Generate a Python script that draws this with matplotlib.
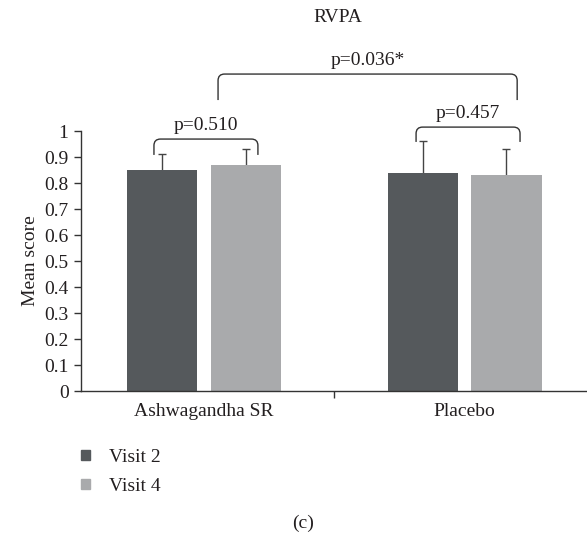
import matplotlib
matplotlib.use('Agg')
import matplotlib.pyplot as plt
from matplotlib.path import Path
from matplotlib.patches import PathPatch, Patch

# data
groups = ['Ashwagandha SR', 'Placebo']
series = ['Visit 2', 'Visit 4']
visit2 = [0.85, 0.84]
visit4 = [0.87, 0.83]
visit2_err = [0.06, 0.12]
visit4_err = [0.06, 0.10]
colors = ['#55595c', '#a9aaac']

# brackets: (x left, x right, y top, y ends, label)
brackets = [
    (-0.192, 0.207, 0.969, 0.908, 'p=0.510'),
    (0.814, 1.213, 1.015, 0.958, 'p=0.457'),
    (0.054, 1.202, 1.219, 1.119, 'p=0.036*'),
]

plt.rcParams['font.family'] = ['Liberation Serif', 'DejaVu Serif']
txt = '#231f20'
fs = 14

fig = plt.figure(figsize=(5.87, 5.37), dpi=100)
ax = fig.add_axes([81/587, 1 - 391/537, 1 - 81/587, 260/537])

x = range(len(groups))
w = 0.269
off = 0.161
ax.bar([i - off for i in x], visit2, w, color=colors[0], zorder=2)
ax.bar([i + off for i in x], visit4, w, color=colors[1], zorder=2)
# upper error bars only
for vals, errs, sign in [(visit2, visit2_err, -1), (visit4, visit4_err, 1)]:
    eb = ax.errorbar([i + sign * off for i in x], vals, yerr=[[0] * len(errs), errs],
                     fmt='none', ecolor='#444444', elinewidth=1, capsize=3,
                     capthick=1, zorder=1)
    eb[1][0].set_visible(False)  # lower cap

ax.set_ylim(0, 1)
ax.set_xlim(-0.472, 1.470)
ax.set_yticks([i / 10 for i in range(11)])
ax.set_yticklabels(['0', '0.1', '0.2', '0.3', '0.4', '0.5', '0.6', '0.7', '0.8', '0.9', '1'])
ax.set_xticks(list(x))
ax.set_xticklabels(groups)
ax.set_xticks([0.5], minor=True)
ax.tick_params(axis='x', which='major', length=0, pad=9, labelsize=fs, colors=txt)
ax.tick_params(axis='x', which='minor', length=5, width=1, color='#333333')
ax.tick_params(axis='y', length=5, width=1, color='#333333', labelsize=fs, labelcolor=txt, pad=4)
for s in ['top', 'right']:
    ax.spines[s].set_visible(False)
for s in ['left', 'bottom']:
    ax.spines[s].set_color('#333333')
    ax.spines[s].set_linewidth(1)
ax.set_ylabel('Mean score', fontsize=fs, color=txt, labelpad=4)

# significance brackets with rounded corners
r = 0.025
for x0, x1, ytop, yend, lab in brackets:
    verts = [(x0, yend), (x0, ytop - r), (x0, ytop), (x0 + r, ytop),
             (x1 - r, ytop), (x1, ytop), (x1, ytop - r), (x1, yend)]
    codes = [Path.MOVETO, Path.LINETO, Path.CURVE3, Path.CURVE3,
             Path.LINETO, Path.CURVE3, Path.CURVE3, Path.LINETO]
    ax.add_patch(PathPatch(Path(verts, codes), fill=False, lw=1,
                           edgecolor='#333333', clip_on=False))
    ax.text((x0 + x1) / 2, ytop + 0.02, lab, ha='center', va='bottom',
            fontsize=fs, color=txt, clip_on=False)

fig.text(338/587, 1 - 17/537, 'RVPA', ha='center', va='center', fontsize=fs, color=txt)

handles = [Patch(color=c) for c in colors]
fig.legend(handles, series, loc='upper left', bbox_to_anchor=(81/587, 1 - 449/537),
           frameon=False, fontsize=fs, handlelength=0.45, handleheight=0.45,
           handletextpad=1.0, labelspacing=0.6, borderpad=0, borderaxespad=0,
           labelcolor=txt)

fig.text(303/587, 1 - 523/537, '(c)', ha='center', va='center', fontsize=fs, color=txt)

fig.savefig('out.png', dpi=100)
